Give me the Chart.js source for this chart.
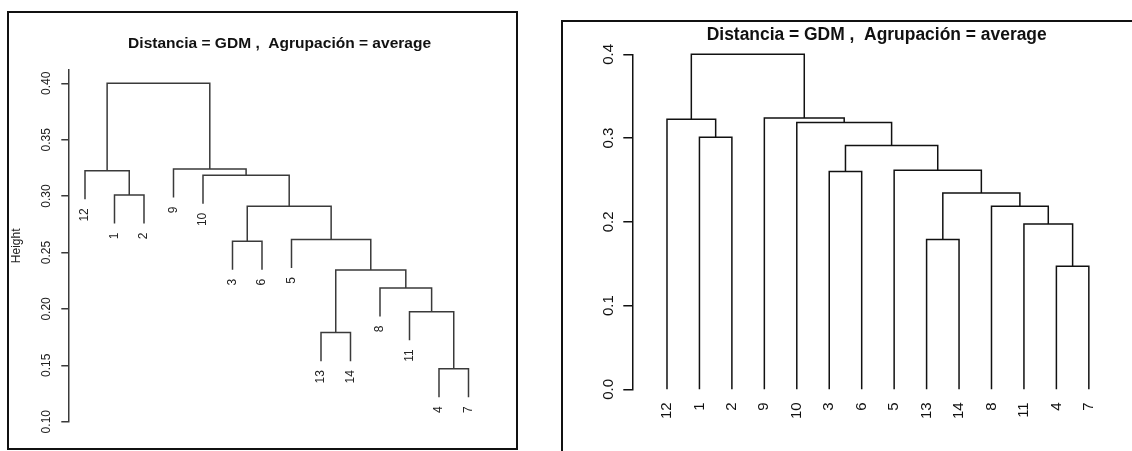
<!DOCTYPE html>
<html lang="es">
<head>
<meta charset="UTF-8">
<title>Dendrogramas - Distancia GDM, agrupación average</title>
<script src="https://cdn.jsdelivr.net/npm/chart.js"></script>
<style>
body { margin: 0; background: #fff; font-family: 'Liberation Sans', Arial, sans-serif; }
#wrap { position: relative; width: 1132px; height: 451px; overflow: hidden; }
.frame { position: absolute; border: 2px solid #111; box-sizing: border-box; }
#frameL { left: 7px; top: 11px; width: 511px; height: 439px; }
#frameR { left: 561px; top: 20px; width: 640px; height: 480px; }
canvas { position: absolute; top: 0; }
#left { left: 0; }
#right { left: 540px; }
</style>
</head>
<body>
<div id="wrap">
  <div class="frame" id="frameL"></div>
  <div class="frame" id="frameR"></div>
  <canvas id="left" width="540" height="451"></canvas>
  <canvas id="right" width="592" height="451"></canvas>
</div>

<script>
// orden de las hojas tal como salen en el dendrograma
const leafOrder = [12, 1, 2, 9, 10, 3, 6, 5, 13, 14, 8, 11, 4, 7];
// fusiones estilo hclust: negativo = observación, positivo = paso anterior
const mergeLeft  = [-4, -13, -11, -8, 2, -3, -5, 6, -1, -10, -12, -9, 11];
const mergeRight = [-7, -14, 1, 3, 4, -6, 5, 7, -2, 8, 9, 10, 12];
// altura de cada fusión
const heights = [0.147, 0.179, 0.1975, 0.2185, 0.2345, 0.260, 0.2615, 0.291, 0.301, 0.3185, 0.3225, 0.324, 0.400];
// marcas del eje
const ticksLeft = [0.10, 0.15, 0.20, 0.25, 0.30, 0.35, 0.40];
const ticksRight = [0.0, 0.1, 0.2, 0.3, 0.4];
const titleText = 'Distancia = GDM ,  Agrupación = average';

// arma los segmentos en forma de U para cada fusión
function buildTree(hang) {
  const range = Math.max(...heights) - Math.min(...heights);
  const nodeX = {};
  const segs = [];
  const tips = [];
  const xOf = id => id < 0 ? leafOrder.indexOf(-id) + 1 : nodeX[id];
  for (let k = 0; k < heights.length; k++) {
    const h = heights[k];
    const ends = [mergeLeft[k], mergeRight[k]].map(id => {
      const x = xOf(id);
      let y;
      if (id < 0) {
        y = hang < 0 ? 0 : h - hang * range;
        tips.push({ x: x, y: y, label: String(-id) });
      } else {
        y = heights[id - 1];
      }
      return { x: x, y: y };
    });
    segs.push([ends[0], { x: ends[0].x, y: h }, { x: ends[1].x, y: h }, ends[1]]);
    nodeX[k + 1] = (ends[0].x + ends[1].x) / 2;
  }
  return { segs, tips };
}

const treeL = buildTree(0.1);
const treeR = buildTree(-1);

function lineSets(segs, color) {
  return segs.map(s => ({
    data: s, showLine: true, borderColor: color, borderWidth: 1.5,
    pointRadius: 0, fill: false, tension: 0, clip: false
  }));
}

// título en negrita, con ancho fijo
function titlePlugin(cx, baseY, size, width) {
  return {
    id: 'rtitle',
    afterDraw(chart) {
      const ctx = chart.ctx;
      ctx.save();
      ctx.font = 'bold ' + size + 'px "Liberation Sans", Arial, sans-serif';
      ctx.fillStyle = '#111';
      ctx.textAlign = 'center';
      ctx.textBaseline = 'alphabetic';
      const sx = width / ctx.measureText(titleText).width;
      ctx.translate(cx, baseY);
      ctx.scale(sx, 1);
      ctx.fillText(titleText, 0, 0);
      ctx.restore();
    }
  };
}

// etiquetas colgando bajo cada hoja (panel izquierdo)
const hangingLabels = {
  id: 'hanging',
  afterDatasetsDraw(chart) {
    const ctx = chart.ctx;
    const xs = chart.scales.x, ys = chart.scales.y;
    ctx.save();
    ctx.font = '12px "Liberation Sans", Arial, sans-serif';
    ctx.fillStyle = '#222';
    ctx.textAlign = 'right';
    ctx.textBaseline = 'middle';
    treeL.tips.forEach(t => {
      ctx.save();
      ctx.translate(xs.getPixelForValue(t.x), ys.getPixelForValue(t.y) + 9);
      ctx.rotate(-Math.PI / 2);
      ctx.fillText(t.label, 0, 0);
      ctx.restore();
    });
    ctx.restore();
  }
};

new Chart(document.getElementById('left'), {
  type: 'scatter',
  data: { datasets: lineSets(treeL.segs, '#3a3a3a') },
  options: {
    responsive: false,
    animation: false,
    layout: { padding: { left: 5, top: 70, right: 42, bottom: 29.3 } },
    plugins: { legend: { display: false }, tooltip: { enabled: false } },
    scales: {
      x: { type: 'linear', display: false, min: 0.434, max: 15 },
      y: {
        type: 'linear', min: 0.10, max: 0.4118,
        afterBuildTicks: s => { s.ticks = ticksLeft.map(v => ({ value: v })); },
        afterFit: s => { s.width = 63.3; },
        ticks: {
          minRotation: 90, maxRotation: 90, crossAlign: 'center', padding: 3,
          color: '#222', font: { family: '"Liberation Sans", Arial, sans-serif', size: 12 },
          callback: v => v.toFixed(2)
        },
        grid: { drawOnChartArea: false, tickLength: 7, color: '#3a3a3a', lineWidth: 1.5 },
        border: { display: true, color: '#3a3a3a', width: 1.5 },
        title: {
          display: true, text: 'Height', color: '#222', padding: { top: 4 },
          font: { family: '"Liberation Sans", Arial, sans-serif', size: 12 }
        }
      }
    }
  },
  plugins: [hangingLabels, titlePlugin(279.6, 47.5, 15, 303)]
});

new Chart(document.getElementById('right'), {
  type: 'scatter',
  data: { datasets: lineSets(treeR.segs, '#111') },
  options: {
    responsive: false,
    animation: false,
    layout: { padding: { left: 32.3, top: 54.3, right: 22, bottom: 21.7 } },
    plugins: { legend: { display: false }, tooltip: { enabled: false } },
    scales: {
      x: {
        type: 'linear', min: -0.069, max: 14.652,
        afterBuildTicks: s => { s.ticks = leafOrder.map((_, i) => ({ value: i + 1 })); },
        afterFit: s => { s.height = 40; },
        ticks: {
          minRotation: 90, maxRotation: 90, autoSkip: false, padding: 5,
          color: '#111', font: { family: '"Liberation Sans", Arial, sans-serif', size: 15 },
          callback: (v, i) => String(leafOrder[i])
        },
        grid: { display: false },
        border: { display: false }
      },
      y: {
        type: 'linear', min: 0, max: 0.4,
        afterBuildTicks: s => { s.ticks = ticksRight.map(v => ({ value: v })); },
        afterFit: s => { s.width = 60; },
        ticks: {
          minRotation: 90, maxRotation: 90, crossAlign: 'center', padding: 4.5,
          color: '#111', font: { family: '"Liberation Sans", Arial, sans-serif', size: 15 },
          callback: v => v.toFixed(1)
        },
        grid: { drawOnChartArea: false, tickLength: 9, color: '#111', lineWidth: 1.5 },
        border: { display: true, color: '#111', width: 1.5 }
      }
    }
  },
  plugins: [titlePlugin(336.7, 40, 18, 340)]
});
</script>
</body>
</html>
